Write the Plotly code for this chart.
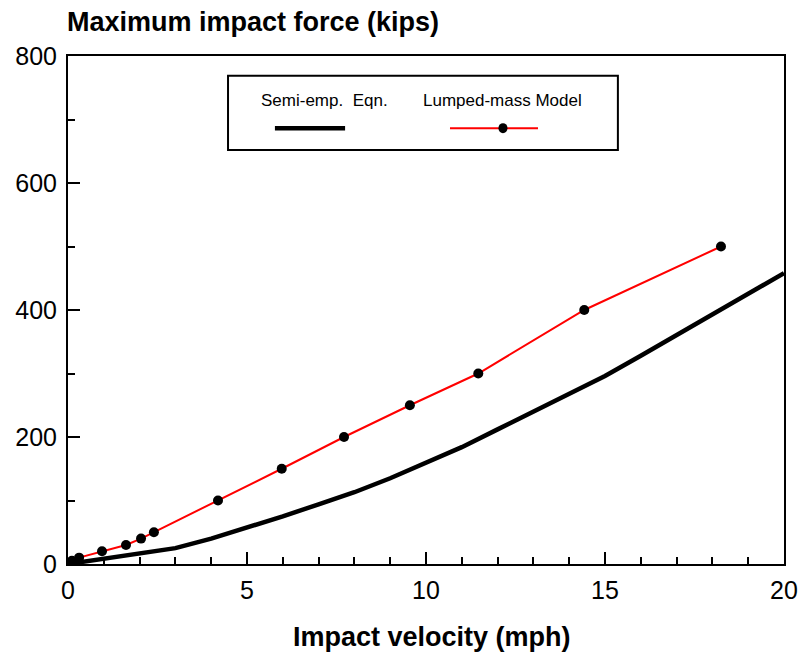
import plotly.graph_objects as go

# Semi-empirical equation: impact force vs velocity
semi_velocity = [0, 1, 2, 3, 4, 5, 6, 7, 8, 9, 10, 11, 12, 13, 14, 15, 16, 17, 18, 19, 20]
semi_force = [0, 8, 17, 25, 40, 57, 75, 94, 113, 135, 159, 184, 212, 240, 268, 296, 328, 360, 393, 425, 458]

# Lumped-mass model results
lumped_velocity = [0, 0.11, 0.31, 0.95, 1.62, 2.04, 2.40, 4.19, 5.97, 7.71, 9.55, 11.46, 14.42, 18.24]
lumped_force = [0, 5, 10, 20, 30, 40, 50, 100, 150, 200, 250, 300, 400, 500]

x_ticks = [0, 5, 10, 15, 20]
y_ticks = [0, 200, 400, 600, 800]

FONT = "Liberation Sans, Arial, sans-serif"

fig = go.Figure()

fig.add_trace(go.Scatter(
    x=semi_velocity, y=semi_force, mode="lines",
    line=dict(color="black", width=4.5),
    name="Semi-emp. Eqn.", showlegend=False,
))
fig.add_trace(go.Scatter(
    x=lumped_velocity, y=lumped_force, mode="lines+markers",
    line=dict(color="#ff0000", width=2),
    marker=dict(color="black", size=10, symbol="circle"),
    name="Lumped-mass Model", showlegend=False,
))

axis_common = dict(
    showline=True, linecolor="black", linewidth=2, mirror=True,
    ticks="inside", ticklen=12, tickwidth=2, tickcolor="black",
    showgrid=False, zeroline=False, automargin=False,
    tickfont=dict(family=FONT, size=25, color="black"),
)

fig.update_xaxes(
    range=[0, 20], tickvals=x_ticks, ticktext=[str(v) for v in x_ticks],
    minor=dict(dtick=1, ticks="inside", ticklen=7, tickwidth=2, tickcolor="black"),
    ticklabelstandoff=3,
    **axis_common,
)
fig.update_yaxes(
    range=[0, 800], tickvals=y_ticks, ticktext=[str(v) for v in y_ticks],
    minor=dict(dtick=100, ticks="inside", ticklen=7, tickwidth=2, tickcolor="black"),
    ticklabelstandoff=4,
    **axis_common,
)

# Boxed key: labels above their line samples
shapes = [
    dict(type="rect", xref="paper", yref="paper", x0=0.2235, x1=0.768, y0=0.815, y1=0.961,
         line=dict(color="black", width=2), fillcolor="white", layer="above"),
    dict(type="line", xref="paper", yref="paper", x0=0.289, x1=0.387, y0=0.858, y1=0.858,
         line=dict(color="black", width=4.5)),
    dict(type="line", xref="paper", yref="paper", x0=0.5335, x1=0.6564, y0=0.858, y1=0.858,
         line=dict(color="#ff0000", width=2)),
    dict(type="circle", xref="paper", yref="paper", xsizemode="pixel", ysizemode="pixel",
         xanchor=0.6075, yanchor=0.858, x0=-4.5, x1=4.5, y0=-5, y1=5,
         fillcolor="black", line=dict(color="black", width=0)),
]

annotations = [
    dict(text="Semi-emp.  Eqn.", xref="paper", yref="paper", x=0.358, y=0.913,
         showarrow=False, xanchor="center", yanchor="middle",
         font=dict(family=FONT, size=17, color="black")),
    dict(text="Lumped-mass Model", xref="paper", yref="paper", x=0.607, y=0.913,
         showarrow=False, xanchor="center", yanchor="middle",
         font=dict(family=FONT, size=17, color="black")),
    dict(text="<b>Maximum impact force (kips)</b>", xref="paper", yref="paper",
         x=-0.004, y=1.067, showarrow=False, xanchor="left", yanchor="middle",
         font=dict(family=FONT, size=27, color="black")),
    dict(text="<b>Impact velocity (mph)</b>", xref="paper", yref="paper",
         x=0.508, y=-0.1437, showarrow=False, xanchor="center", yanchor="middle",
         font=dict(family=FONT, size=27, color="black")),
]

fig.update_layout(
    width=804, height=658,
    margin=dict(l=68, r=20, t=56, b=94),
    paper_bgcolor="white", plot_bgcolor="white",
    shapes=shapes, annotations=annotations,
    showlegend=False,
)

fig.write_html("out.html")
